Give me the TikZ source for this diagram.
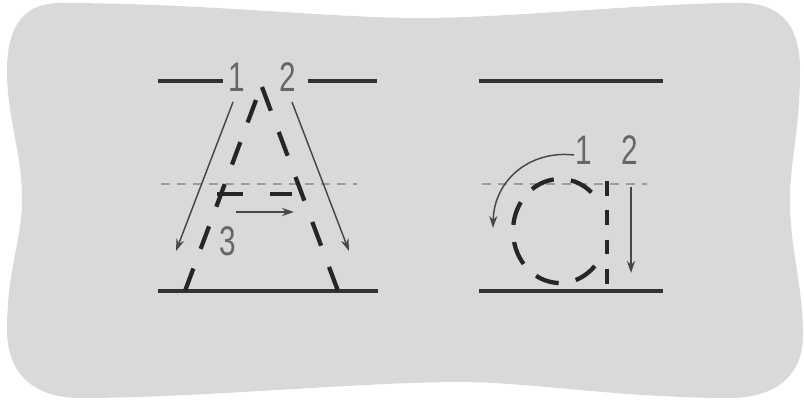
\documentclass[tikz,border=0pt]{standalone}
\usepackage{fontspec}
\setmainfont{Liberation Sans}
\usetikzlibrary{arrows.meta}
\definecolor{bg}{HTML}{D9D9D9}
\definecolor{ink}{HTML}{333333}
\definecolor{txt}{HTML}{666666}
\definecolor{guide}{HTML}{9A9A9A}
\tikzset{
  rule/.style={draw=ink, line width=2.4pt},
  midrule/.style={draw=guide, line width=1.2pt, dash pattern=on 7pt off 5pt},
  stroke/.style={draw=black!85, line width=3.2pt, dash pattern=on 18pt off 15pt},
  guidearrow/.style={draw=ink!90, line width=1.1pt, -{Stealth[length=9pt,width=6pt]}},
  digit/.style={text=txt, inner sep=0pt, font=\fontsize{31}{31}\selectfont}
}
\begin{document}
\begin{tikzpicture}[x=0.75pt,y=-0.75pt]
\useasboundingbox (0,0) rectangle (804,402);
% background
\fill[bg] (60,3) .. controls (200,3) and (330,18) .. (420,18)
  .. controls (510,18) and (650,3) .. (740,3)
  .. controls (785,3) and (800,30) .. (800,70)
  .. controls (800,130) and (790,160) .. (790,200)
  .. controls (790,250) and (803,285) .. (803,335)
  .. controls (803,380) and (770,398) .. (730,398)
  .. controls (620,398) and (530,382) .. (460,382)
  .. controls (360,382) and (200,398) .. (80,398)
  .. controls (30,398) and (7,370) .. (7,330)
  .. controls (7,270) and (22,240) .. (22,200)
  .. controls (22,150) and (7,120) .. (7,70)
  .. controls (7,25) and (25,3) .. (60,3) -- cycle;
% clipped dark arc at the right edge
\draw[ink, line width=3pt] (815,212) arc[start angle=-125, end angle=-235, radius=16];

% ===== Letter A =====
\coordinate (AtlL) at (158,81);  \coordinate (AtlR) at (223,81);
\coordinate (AtrL) at (308,81);  \coordinate (AtrR) at (377,81);
\coordinate (AmL) at (161,184);  \coordinate (AmR) at (357,184);
\coordinate (AbL) at (158,291);  \coordinate (AbR) at (378,291);
\draw[rule] (AtlL) -- (AtlR);
\draw[rule] (AtrL) -- (AtrR);
\draw[midrule] (AmL) -- (AmR);
\draw[rule] (AbL) -- (AbR);
% dashed strokes
\coordinate (Lt) at (256,100); \coordinate (Lb) at (185,291);
\coordinate (Rt) at (262,87);  \coordinate (Rb) at (338,291);
\coordinate (Cl) at (217,194); \coordinate (Cr) at (292,194);
\draw[stroke, dash pattern=on 18pt off 15.7pt] (Lt) -- (Lb);
\draw[stroke, dash pattern=on 19pt off 17pt] (Rt) -- (Rb);
\draw[stroke, dash pattern=on 19.5pt off 20pt] (Cl) -- (Cr);
% labels
\node[digit] (A1) at (237,77) {\scalebox{0.72}[1]{1}};
\node[digit] (A2) at (288,77) {\scalebox{0.72}[1]{2}};
\node[digit] (A3) at (228,241) {\scalebox{0.72}[1]{3}};
% guide arrows
\coordinate (a1s) at (233,102); \coordinate (a1e) at (176,251);
\coordinate (a2s) at (292,102); \coordinate (a2e) at (349,251);
\coordinate (a3s) at (236,212); \coordinate (a3e) at (294,212);
\draw[guidearrow] (a1s) -- (a1e);
\draw[guidearrow] (a2s) -- (a2e);
\draw[guidearrow] (a3s) -- (a3e);

% ===== Letter a =====
\coordinate (BtL) at (479,81);  \coordinate (BtR) at (663,81);
\coordinate (BmL) at (482,184); \coordinate (BmR) at (647,184);
\coordinate (BbL) at (479,291); \coordinate (BbR) at (663,291);
\draw[rule] (BtL) -- (BtR);
\draw[midrule] (BmL) -- (BmR);
\draw[rule] (BbL) -- (BbR);
% dashed bowl and stem
\coordinate (O) at (560,231);
\draw[stroke, dash pattern=on 18pt off 13pt] (O) ++(-48:47 and 52) arc[start angle=-48, end angle=-320, x radius=47, y radius=52];
\coordinate (St) at (607,181); \coordinate (Sb) at (607,291);
\draw[stroke, dash pattern=on 11pt off 11pt] (St) -- (Sb);
% labels
\node[digit] (B1) at (584,150) {\scalebox{0.72}[1]{1}};
\node[digit] (B2) at (630,150) {\scalebox{0.72}[1]{2}};
% guide arrows
\coordinate (b1s) at (574,155); \coordinate (b1e) at (493,228);
\coordinate (b2s) at (631,187); \coordinate (b2e) at (631,273);
\draw[guidearrow] (b1s) .. controls (530,150) and (494,180) .. (b1e);
\draw[guidearrow] (b2s) -- (b2e);
\end{tikzpicture}
\end{document}
